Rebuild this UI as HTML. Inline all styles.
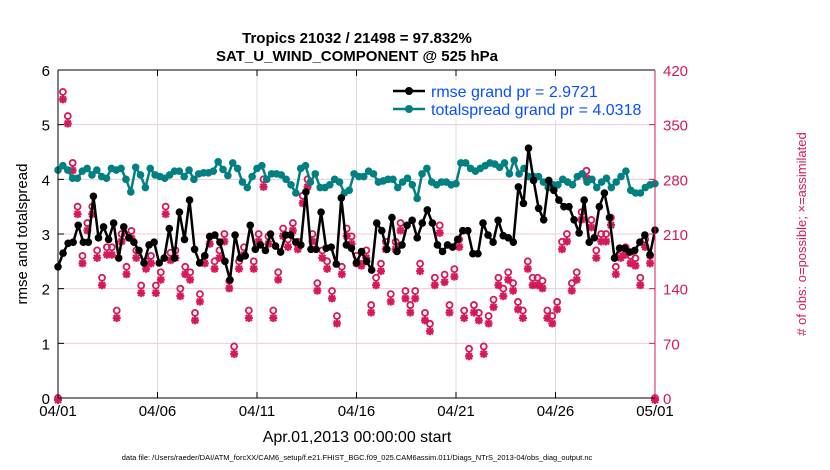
<!DOCTYPE html>
<html><head><meta charset="utf-8"><style>
body{margin:0;background:#fff;font-family:"Liberation Sans",sans-serif}
svg{display:block}
</style></head><body>
<svg id="chart" width="830" height="470" xmlns="http://www.w3.org/2000/svg" font-family="Liberation Sans, sans-serif">
<text x="357" y="43" text-anchor="middle" font-size="15" font-weight="bold">Tropics 21032 / 21498 = 97.832%</text>
<text x="357" y="61" text-anchor="middle" font-size="15" font-weight="bold">SAT_U_WIND_COMPONENT @ 525 hPa</text>
<g id="grid"></g>
<g id="marks"></g>
<g id="axes"></g>
<g>
<rect x="388" y="80" width="264" height="40" fill="#fff"/>
<line x1="393" y1="91" x2="425" y2="91" stroke="#000" stroke-width="2.5"/><circle cx="409" cy="91" r="4" fill="#000"/>
<text x="431" y="97" font-size="16" fill="#0a4fff">rmse grand pr = 2.9721</text>
<line x1="393" y1="109" x2="425" y2="109" stroke="#008080" stroke-width="2.5"/><circle cx="409" cy="109" r="4" fill="#008080"/>
<text x="431" y="115" font-size="16" fill="#0a4fff">totalspread grand pr = 4.0318</text>
</g>
<text transform="translate(27,234) rotate(-90)" text-anchor="middle" font-size="15">rmse and totalspread</text>
<text transform="translate(806,234) rotate(-90)" text-anchor="middle" font-size="13" fill="#d5195a"># of obs: o=possible; ×=assimilated</text>
<text x="357" y="442" text-anchor="middle" font-size="16">Apr.01,2013 00:00:00 start</text>
<text x="357" y="460" text-anchor="middle" font-size="7.5">data file: /Users/raeder/DAI/ATM_forcXX/CAM6_setup/f.e21.FHIST_BGC.f09_025.CAM6assim.011/Diags_NTrS_2013-04/obs_diag_output.nc</text>
</svg>
<script>
const xTickLabels=["04/01","04/06","04/11","04/16","04/21","04/26","05/01"];
const yTicks=[0,1,2,3,4,5,6];
const y2Ticks=[0,70,140,210,280,350,420];
const rmse=[2.4,2.65,2.83,2.85,3.16,2.85,2.85,3.69,2.93,3.13,2.9,3.2,2.56,3.13,2.93,2.85,2.7,2.47,2.8,2.85,2.47,2.56,3.1,2.56,3.4,2.9,3.62,2.72,2.47,2.6,
2.95,2.98,2.85,2.5,2.16,2.98,2.56,2.6,3.16,2.72,2.8,2.7,3.0,2.78,2.67,2.98,2.98,2.85,2.8,3.77,2.72,2.72,3.4,2.74,2.76,2.45,3.66,2.8,2.74,2.47,
2.68,2.5,2.34,3.2,3.06,2.72,3.3,2.68,2.8,3.16,3.25,2.93,3.2,3.44,3.2,2.8,2.68,2.8,2.76,2.9,3.06,3.06,2.64,2.64,3.2,2.98,2.85,3.25,2.97,2.93,2.85,
3.86,3.56,4.57,3.98,3.47,3.26,3.98,3.8,3.62,3.5,3.5,3.26,3.02,3.62,2.85,2.93,3.5,3.75,3.3,2.56,2.74,2.74,2.67,2.7,2.85,2.98,2.62,3.07];
const spread=[4.17,4.25,4.17,4.02,4.02,4.15,4.2,4.08,4.17,4.05,4.02,4.2,4.17,4.2,4.0,3.77,4.22,4.08,3.85,4.2,4.08,4.05,4.02,4.08,4.15,4.15,4.05,4.17,4.0,4.1,
4.12,4.12,4.15,4.32,4.18,4.07,4.3,4.2,3.95,3.85,4.05,4.2,4.25,4.0,4.1,4.1,4.08,4.0,3.9,3.75,4.2,4.25,3.95,4.1,3.85,3.85,3.9,4.0,3.95,3.75,
3.8,4.1,4.05,4.05,4.15,4.1,3.95,3.97,4.0,4.0,3.85,3.95,4.02,3.9,3.65,4.1,4.2,3.95,3.9,3.95,3.95,3.9,3.92,4.3,4.3,4.2,4.15,4.2,4.25,4.3,
4.28,4.22,4.3,4.1,4.35,4.1,4.2,4.05,4.05,4.05,3.95,3.85,3.9,3.9,4.0,3.95,3.9,4.05,4.1,3.95,4.0,3.85,3.95,4.02,3.85,3.95,4.05,4.15,3.8,3.75,3.75,3.85,3.9,3.92];
const obsPossible=[0,392,361,301,245,182,224,245,189,154,193,193,112,210,168,214,189,144,175,182,144,161,245,186,189,140,168,161,109,133,182,
207,175,189,210,150,66,175,193,112,175,210,280,207,112,161,217,203,224,200,259,280,210,147,189,175,137,105,168,217,207,
182,179,189,119,154,172,200,133,200,224,137,119,137,172,109,95,154,221,158,119,165,203,112,63,119,109,66,105,126,154,140,
161,147,123,112,175,154,154,150,112,105,123,200,210,147,161,238,291,228,189,210,210,231,168,189,193,182,179,154,203,182,0];
const obsAssim=[0,385,354,294,238,175,217,238,182,147,186,186,105,203,161,207,182,137,168,175,137,154,238,179,182,133,161,154,102,126,175,
200,168,182,203,143,59,168,186,105,168,203,273,200,105,154,210,196,217,193,252,273,203,140,182,168,130,98,161,210,200,
175,172,182,112,147,165,193,126,193,217,130,112,130,165,102,88,147,214,151,112,158,196,105,56,112,102,59,98,119,147,133,
154,140,116,105,168,147,147,143,105,98,116,193,203,140,154,231,284,221,182,203,203,224,161,182,186,175,172,147,196,175,0];

const NS="http://www.w3.org/2000/svg";
const X0=58,X1=655,Y0=398,Y1=70;
const xDay=d=>X0+(X1-X0)*d/30;
const yL=v=>Y0-(Y0-Y1)*v/6;
const yR=v=>Y0-(Y0-Y1)*v/420;
const dayOf=(i,n)=>i*30/(n-1);
function mk(tag,attrs,parent){const e=document.createElementNS(NS,tag);for(const k in attrs)e.setAttribute(k,attrs[k]);parent.appendChild(e);return e;}
const grid=document.getElementById('grid'),marks=document.getElementById('marks'),axes=document.getElementById('axes');
const MAG="#d5195a";
yTicks.forEach((t,i)=>{if(i>0&&i<6){const l=mk('line',{x1:X0,x2:X1,y1:yL(t),y2:yL(t),stroke:"#f2c8d8","stroke-width":1},grid);

}});
xTickLabels.forEach((s,i)=>{const x=xDay(i*5);
if(i>0&&i<6){const g=mk('line',{x1:x,x2:x,y1:Y1,y2:Y0,stroke:"#dcdcdc","stroke-width":1},grid);

}
mk('line',{x1:x,x2:x,y1:Y0,y2:Y0-6,stroke:"#000"},axes);mk('line',{x1:x,x2:x,y1:Y1,y2:Y1+6,stroke:"#000"},axes);
const t=mk('text',{x:x,y:416,"text-anchor":"middle","font-size":15},axes);t.textContent=s;

});
yTicks.forEach(v=>{const y=yL(v);mk('line',{x1:X0,x2:X0+6,y1:y,y2:y,stroke:"#000"},axes);
const t=mk('text',{x:50,y:y+6,"text-anchor":"end","font-size":15},axes);t.textContent=v;

});
y2Ticks.forEach(v=>{const y=yR(v);mk('line',{x1:X1,x2:X1-6,y1:y,y2:y,stroke:MAG},axes);
const t=mk('text',{x:663,y:y+6,"font-size":15,fill:MAG},axes);t.textContent=v;

});
mk('line',{x1:X0,x2:X1,y1:Y1,y2:Y1,stroke:"#000"},axes);
mk('line',{x1:X0,x2:X1,y1:Y0,y2:Y0,stroke:"#000"},axes);
mk('line',{x1:X0,x2:X0,y1:Y1,y2:Y0,stroke:"#000"},axes);
mk('line',{x1:X1,x2:X1,y1:Y1,y2:Y0,stroke:MAG},axes);
// obs markers
obsPossible.forEach((v,i)=>{const x=xDay(dayOf(i,obsPossible.length)),y=yR(v);
const c=mk('circle',{cx:x,cy:y,r:3,fill:"none",stroke:MAG,"stroke-width":1.8},marks);

});
obsAssim.forEach((v,i)=>{const x=xDay(dayOf(i,obsAssim.length)),y=yR(v)+2;
const g=mk('g',{stroke:MAG,"stroke-width":2.2},marks);


mk('line',{x1:x-4,x2:x+4,y1:y,y2:y},g);mk('line',{x1:x,x2:x,y1:y-4,y2:y+4},g);
mk('line',{x1:x-3,x2:x+3,y1:y-3,y2:y+3},g);mk('line',{x1:x-3,x2:x+3,y1:y+3,y2:y-3},g);});
function series(arr,color,name){const pts=arr.map((v,i)=>xDay(dayOf(i,arr.length)).toFixed(1)+","+yL(v).toFixed(1)).join(" ");
const p=mk('polyline',{points:pts,fill:"none",stroke:color,"stroke-width":2.5,"stroke-linejoin":"round"},marks);


arr.forEach((v,i)=>{const c=mk('circle',{cx:xDay(dayOf(i,arr.length)),cy:yL(v),r:3.8,fill:color},marks);

});}
series(spread,"#008080","totalspread");
series(rmse,"#000000","rmse");
</script>
</body></html>
